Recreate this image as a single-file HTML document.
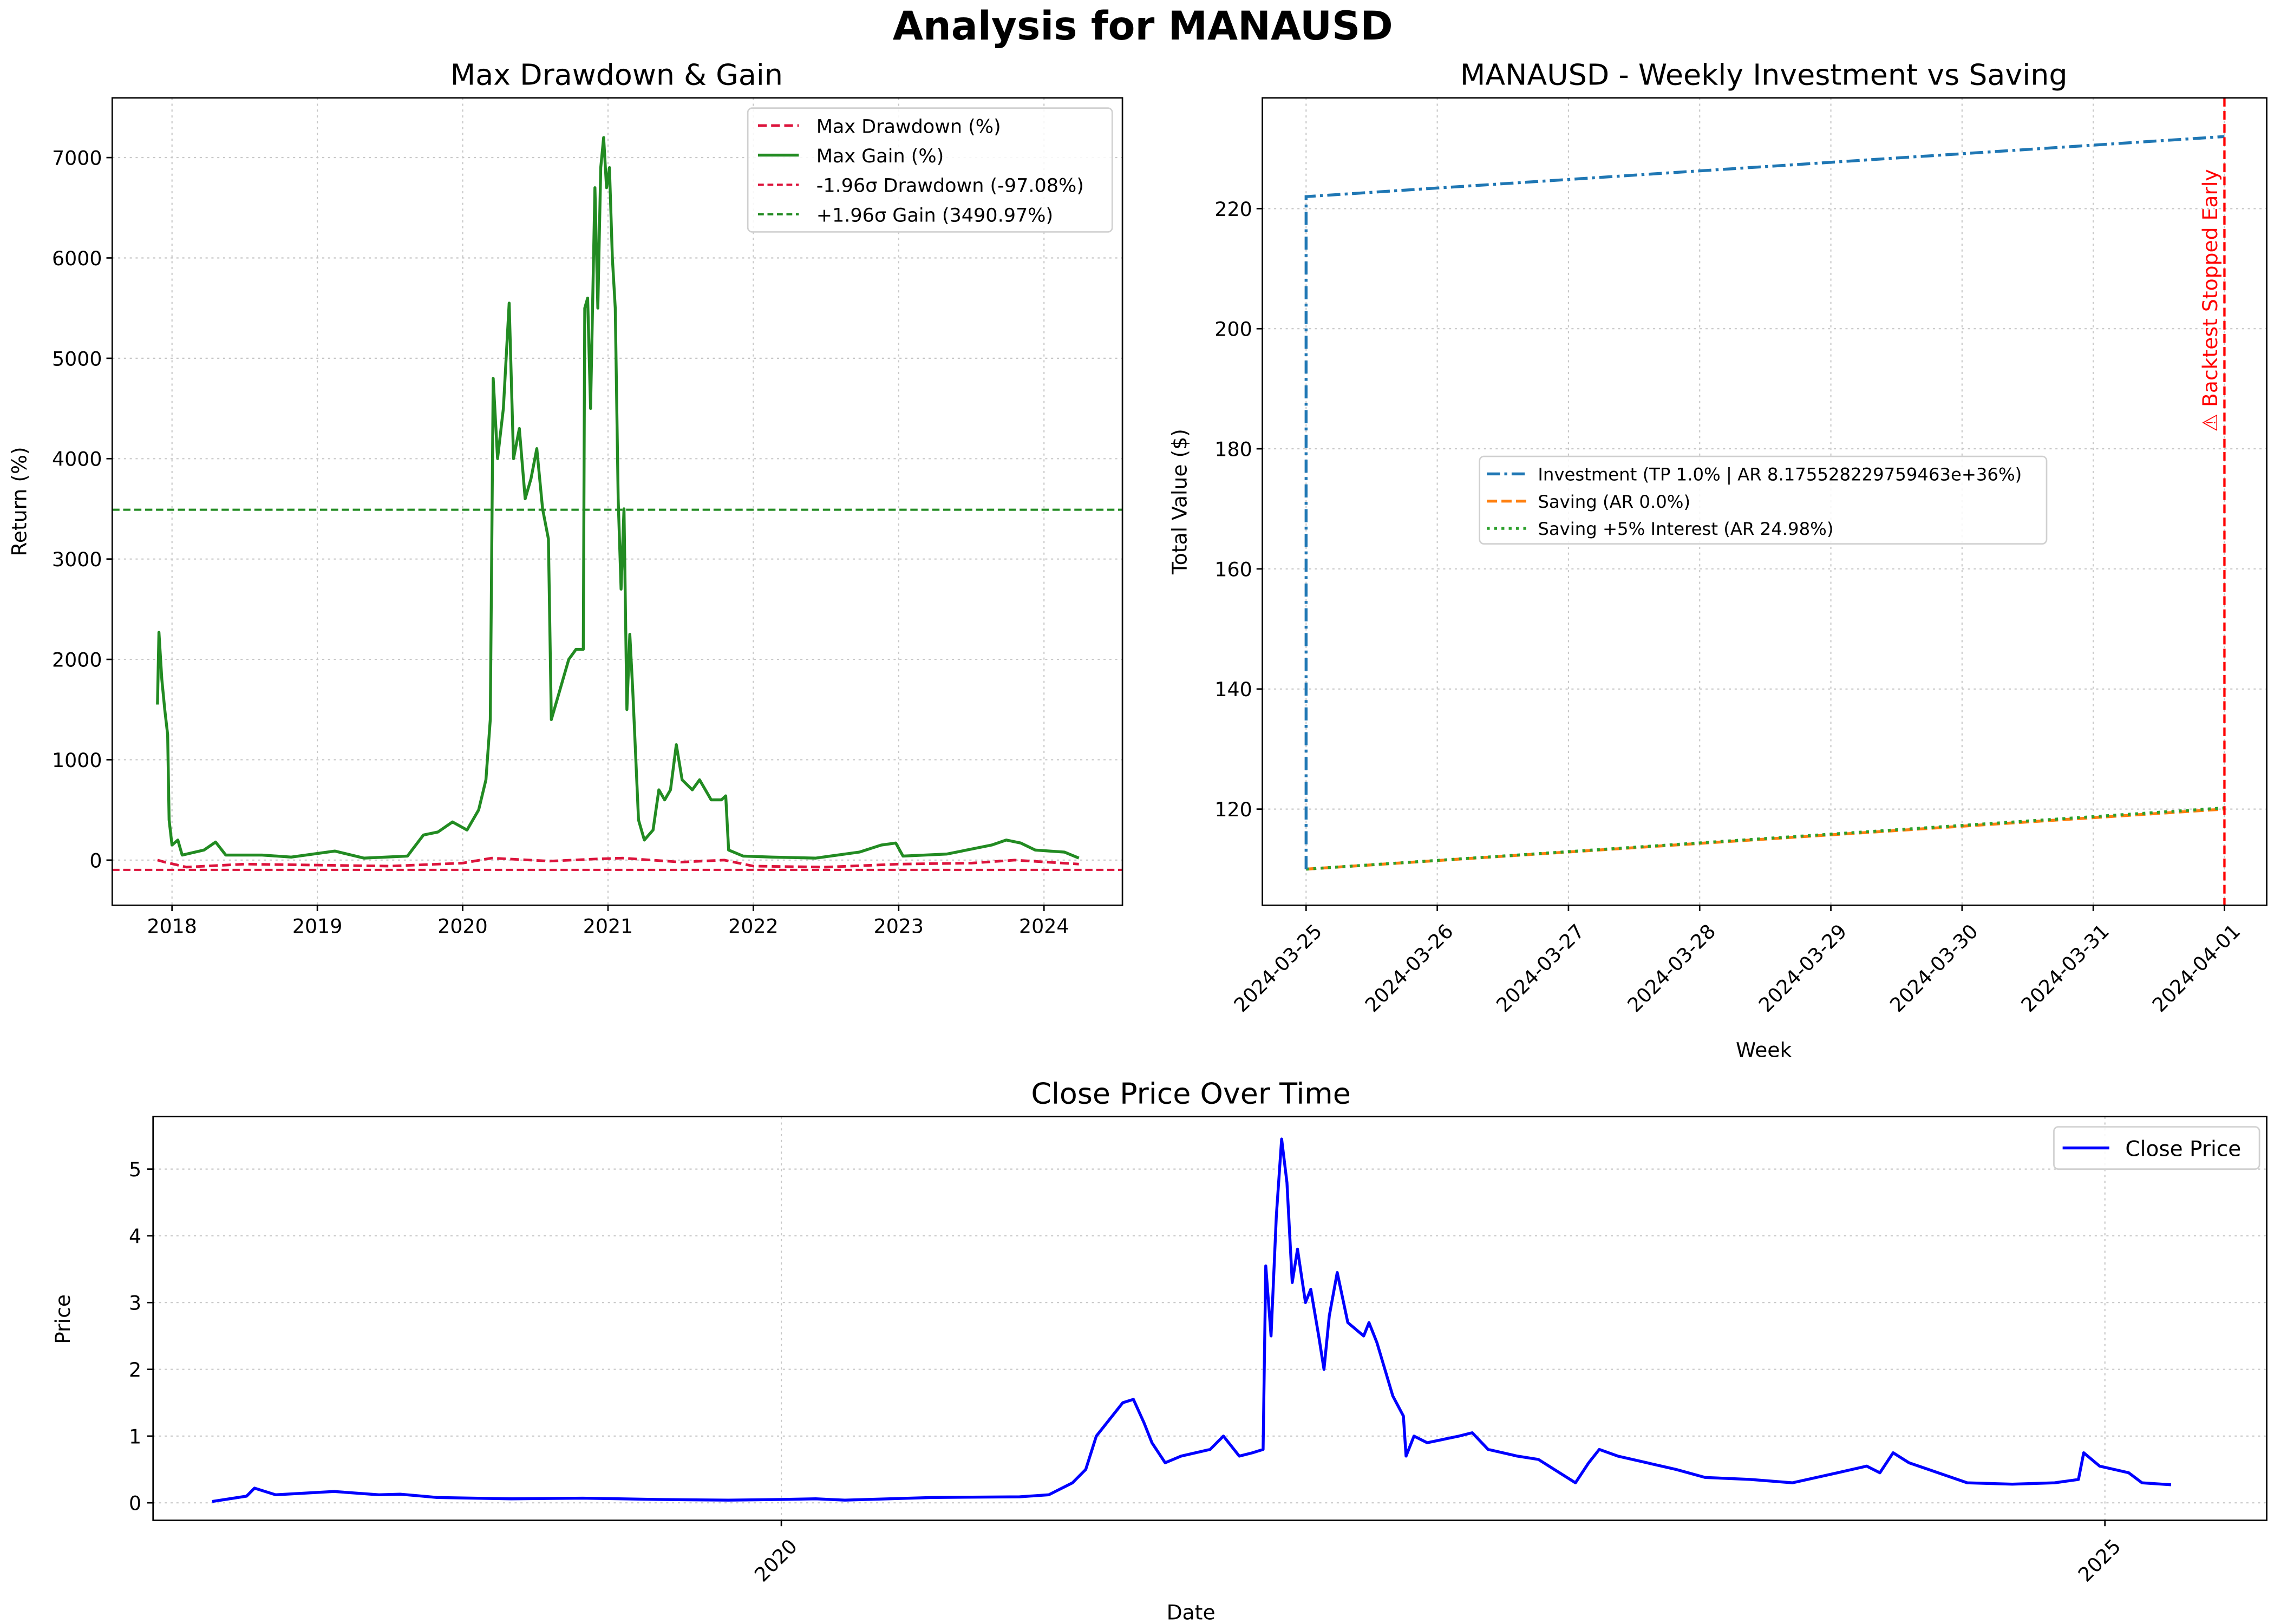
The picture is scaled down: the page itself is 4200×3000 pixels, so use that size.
<!DOCTYPE html>
<html><head><meta charset="utf-8">
<style>
html,body{margin:0;padding:0;background:#fff;}
svg{display:block;font-family:"DejaVu Sans","Liberation Sans",sans-serif;}
</style></head>
<body>
<svg id="fig" xmlns="http://www.w3.org/2000/svg" width="4200" height="3000" viewBox="0 0 1560 1114">
<rect width="1560" height="1114" fill="#fff"/>
<text x="784" y="27" text-anchor="middle" font-size="27" font-weight="bold">Analysis for MANAUSD</text>
<g id="p1"></g>
<g id="p2"></g>
<g id="p3"></g>
</svg>
<script>
// ---------- data ----------
const gainYears = [2017.90,2017.91,2017.93,2017.95,2017.97,2017.98,2018.00,2018.04,2018.07,2018.22,2018.30,2018.37,2018.62,2018.82,2019.12,2019.32,2019.62,2019.73,2019.83,2019.93,2020.03,2020.11,2020.16,2020.19,2020.21,2020.24,2020.28,2020.32,2020.35,2020.39,2020.43,2020.47,2020.51,2020.55,2020.59,2020.61,2020.65,2020.69,2020.73,2020.78,2020.83,2020.84,2020.86,2020.88,2020.91,2020.93,2020.95,2020.97,2020.99,2021.01,2021.03,2021.05,2021.07,2021.09,2021.11,2021.13,2021.15,2021.17,2021.21,2021.25,2021.31,2021.35,2021.39,2021.43,2021.47,2021.51,2021.58,2021.63,2021.71,2021.78,2021.81,2021.83,2021.93,2022.13,2022.43,2022.73,2022.88,2022.98,2023.03,2023.33,2023.64,2023.74,2023.84,2023.94,2024.14,2024.24];
const gainValues = [1550,2270,1800,1500,1250,400,150,200,50,100,180,50,50,30,90,20,40,250,280,380,300,500,800,1400,4800,4000,4500,5550,4000,4300,3600,3800,4100,3500,3200,1400,1600,1800,2000,2100,2100,5500,5600,4500,6700,5500,6900,7200,6700,6900,6000,5500,3600,2700,3500,1500,2250,1700,400,200,300,700,600,700,1150,800,700,800,600,600,640,100,40,30,20,80,150,170,40,60,150,200,170,100,80,20];
const ddYears = [2017.90,2017.95,2018.10,2018.50,2019.00,2019.50,2020.00,2020.20,2020.60,2020.90,2021.10,2021.50,2021.80,2022.00,2022.50,2023.00,2023.50,2023.80,2024.24];
const ddValues = [0,-20,-70,-40,-50,-60,-30,20,-10,10,20,-20,0,-60,-70,-40,-30,0,-40];
const ddSigma = -97.08, gainSigma = 3490.97;
const p1YTicks = [0,1000,2000,3000,4000,5000,6000,7000];
const p1XTicks = [2018,2019,2020,2021,2022,2023,2024];

const weekDays = [0,1,2,3,4,5,6,7];
const weekLabels = ["2024-03-25","2024-03-26","2024-03-27","2024-03-28","2024-03-29","2024-03-30","2024-03-31","2024-04-01"];
const invDays = [0,0,7];
const invValues = [110,222,232];
const saveDays = [0,7];
const saveValues = [110,120];
const save5Values = [110,120.2];
const p2YTicks = [120,140,160,180,200,220];
const stopDay = 7;

const priceYears = [2017.85,2017.98,2018.01,2018.09,2018.31,2018.48,2018.56,2018.70,2018.98,2019.25,2019.53,2019.80,2020.00,2020.13,2020.24,2020.57,2020.90,2021.01,2021.10,2021.15,2021.19,2021.23,2021.29,2021.33,2021.37,2021.40,2021.45,2021.51,2021.62,2021.67,2021.73,2021.78,2021.82,2021.83,2021.85,2021.87,2021.89,2021.91,2021.93,2021.95,2021.98,2022.00,2022.03,2022.05,2022.07,2022.10,2022.14,2022.20,2022.22,2022.25,2022.28,2022.31,2022.35,2022.36,2022.39,2022.44,2022.56,2022.61,2022.67,2022.78,2022.86,2022.94,2023.00,2023.05,2023.09,2023.16,2023.27,2023.38,2023.49,2023.66,2023.82,2023.99,2024.10,2024.15,2024.20,2024.26,2024.37,2024.48,2024.65,2024.81,2024.90,2024.92,2024.98,2025.09,2025.14,2025.25];
const priceValues = [0.02,0.10,0.22,0.12,0.17,0.12,0.13,0.08,0.06,0.07,0.05,0.04,0.05,0.06,0.04,0.08,0.09,0.12,0.30,0.50,1.00,1.20,1.50,1.55,1.20,0.90,0.60,0.70,0.80,1.00,0.70,0.75,0.80,3.55,2.50,4.30,5.45,4.80,3.30,3.80,3.00,3.20,2.50,2.00,2.80,3.45,2.70,2.50,2.70,2.40,2.00,1.60,1.30,0.70,1.00,0.90,1.00,1.05,0.80,0.70,0.65,0.45,0.30,0.60,0.80,0.70,0.60,0.50,0.38,0.35,0.30,0.45,0.55,0.45,0.75,0.60,0.45,0.30,0.28,0.30,0.35,0.75,0.55,0.45,0.30,0.27];
const p3YTicks = [0,1,2,3,4,5];
const p3XTicks = [2020,2025];

// ---------- helpers ----------
const NS = "http://www.w3.org/2000/svg";
function mk(parent, tag, attrs, text){
  const e = document.createElementNS(NS, tag);
  for (const k in attrs) e.setAttribute(k, attrs[k]);
  if (text !== undefined) e.textContent = text;
  parent.appendChild(e);
  return e;
}
function pathD(xs, ys, fx, fy){
  return xs.map((x,i)=>(i?"L":"M")+fx(x).toFixed(2)+","+fy(ys[i]).toFixed(2)).join("");
}
const GRID = {stroke:"#c8c8c8","stroke-width":0.8,"stroke-dasharray":"1.5,2.5"};

// ---------- Plot 1 ----------
(function(){
  const g = document.getElementById("p1");
  const L=77,R=770,T=67,B=621;
  const x = v => 118 + (v-2018)*99.7;
  const y = v => 590 - v*0.06886;
  let e;
  e = mk(g,"text",{x:423,y:58,"text-anchor":"middle","font-size":20},"Max Drawdown & Gain");
   
  p1XTicks.forEach(t=>{
    e = mk(g,"line",Object.assign({x1:x(t),x2:x(t),y1:T,y2:B},GRID));
     
    mk(g,"line",{x1:x(t),x2:x(t),y1:B,y2:B+4,stroke:"#000"});
    e = mk(g,"text",{x:x(t),y:B+19,"text-anchor":"middle","font-size":13.5},String(t));
     
  });
  p1YTicks.forEach(t=>{
    e = mk(g,"line",Object.assign({x1:L,x2:R,y1:y(t),y2:y(t)},GRID));
     
    mk(g,"line",{x1:L-4,x2:L,y1:y(t),y2:y(t),stroke:"#000"});
    e = mk(g,"text",{x:L-7,y:y(t)+5,"text-anchor":"end","font-size":13.5},String(t));
     
  });
  e = mk(g,"text",{x:18,y:344,"text-anchor":"middle","font-size":14,transform:"rotate(-90 18 344)"},"Return (%)");
   
  e = mk(g,"line",{x1:L,x2:R,y1:y(gainSigma),y2:y(gainSigma),stroke:"#228b22","stroke-width":1.5,"stroke-dasharray":"5,2.5"});
   
  e = mk(g,"path",{d:pathD(gainYears,gainValues,x,y),fill:"none",stroke:"#228b22","stroke-width":2,"stroke-linejoin":"round"});
   
  e = mk(g,"path",{d:pathD(ddYears,ddValues,x,y),fill:"none",stroke:"#dc143c","stroke-width":1.8,"stroke-dasharray":"6,3"});
   
  e = mk(g,"line",{x1:L,x2:R,y1:y(ddSigma),y2:y(ddSigma),stroke:"#dc143c","stroke-width":1.5,"stroke-dasharray":"5,2.5"});
   
  mk(g,"rect",{x:L,y:T,width:R-L,height:B-T,fill:"none",stroke:"#000","stroke-width":1});
  // legend
  const lg = mk(g,"g",{});
   
  mk(lg,"rect",{x:513,y:74,width:250,height:85,rx:3,fill:"#fff","fill-opacity":0.85,stroke:"#d0d0d0"});
  const items=[["Max Drawdown (%)","#dc143c","6,3",1.8],["Max Gain (%)","#228b22","",2],["-1.96σ Drawdown (-97.08%)","#dc143c","4,2.5",1.5],["+1.96σ Gain (3490.97%)","#228b22","4,2.5",1.5]];
  items.forEach((it,i)=>{
    const yy=86+i*20.3;
    mk(lg,"line",{x1:520,x2:548,y1:yy,y2:yy,stroke:it[1],"stroke-width":it[3],"stroke-dasharray":it[2]});
    e = mk(lg,"text",{x:560,y:yy+5,"font-size":13},it[0]);
     
  });
})();

// ---------- Plot 2 ----------
(function(){
  const g = document.getElementById("p2");
  const L=866,R=1555,T=67,B=621;
  const x = d => 896 + d*90;
  const y = v => 555 - (v-120)*4.12;
  let e;
  e = mk(g,"text",{x:1210,y:58,"text-anchor":"middle","font-size":20},"MANAUSD - Weekly Investment vs Saving");
   
  weekDays.forEach((d,i)=>{
    e = mk(g,"line",Object.assign({x1:x(d),x2:x(d),y1:T,y2:B},GRID));
     
    mk(g,"line",{x1:x(d),x2:x(d),y1:B,y2:B+4,stroke:"#000"});
    const tx=x(d)+5, ty=B+12;
    e = mk(g,"text",{x:tx,y:ty,"text-anchor":"end","font-size":13.5,transform:`rotate(-45 ${tx} ${ty})`,dy:"0.7em"},weekLabels[i]);
     
  });
  p2YTicks.forEach(t=>{
    e = mk(g,"line",Object.assign({x1:L,x2:R,y1:y(t),y2:y(t)},GRID));
     
    mk(g,"line",{x1:L-4,x2:L,y1:y(t),y2:y(t),stroke:"#000"});
    e = mk(g,"text",{x:L-7,y:y(t)+5,"text-anchor":"end","font-size":13.5},String(t));
     
  });
  e = mk(g,"text",{x:814,y:344,"text-anchor":"middle","font-size":14,transform:"rotate(-90 814 344)"},"Total Value ($)");
   
  e = mk(g,"text",{x:1210,y:725,"text-anchor":"middle","font-size":14},"Week");
   
  e = mk(g,"path",{d:pathD(saveDays,saveValues,x,y),fill:"none",stroke:"#ff7f0e","stroke-width":2,"stroke-dasharray":"7,3"});
   
  e = mk(g,"path",{d:pathD(saveDays,save5Values,x,y),fill:"none",stroke:"#2ca02c","stroke-width":2,"stroke-dasharray":"2,3"});
   
  e = mk(g,"path",{d:pathD(invDays,invValues,x,y),fill:"none",stroke:"#1f77b4","stroke-width":2,"stroke-dasharray":"9,3,2,3"});
   
  e = mk(g,"line",{x1:x(stopDay),x2:x(stopDay),y1:T,y2:B,stroke:"#ff0000","stroke-width":1.6,"stroke-dasharray":"6,3"});
   
  const sx=x(stopDay)-5, sy=206;
  e = mk(g,"text",{x:sx,y:sy,"text-anchor":"middle","font-size":14,fill:"#ff0000",transform:`rotate(-90 ${sx} ${sy})`},"⚠ Backtest Stopped Early");
   
  mk(g,"rect",{x:L,y:T,width:R-L,height:B-T,fill:"none",stroke:"#000","stroke-width":1});
  const lg = mk(g,"g",{});
   
  mk(lg,"rect",{x:1015,y:313,width:389,height:60,rx:3,fill:"#fff","fill-opacity":0.85,stroke:"#d0d0d0"});
  const items=[["Investment (TP 1.0% | AR 8.175528229759463e+36%)","#1f77b4","9,3,2,3"],["Saving (AR 0.0%)","#ff7f0e","7,3"],["Saving +5% Interest (AR 24.98%)","#2ca02c","2,3"]];
  items.forEach((it,i)=>{
    const yy=325+i*18.7;
    mk(lg,"line",{x1:1020,x2:1047,y1:yy,y2:yy,stroke:it[1],"stroke-width":2,"stroke-dasharray":it[2]});
    e = mk(lg,"text",{x:1055,y:yy+4.5,"font-size":12},it[0]);
     
  });
})();

// ---------- Plot 3 ----------
(function(){
  const g = document.getElementById("p3");
  const L=105,R=1555,T=766,B=1043;
  const x = v => 536 + (v-2020)*181.6;
  const y = v => 1031 - v*45.8;
  let e;
  e = mk(g,"text",{x:817,y:757,"text-anchor":"middle","font-size":20},"Close Price Over Time");
   
  p3XTicks.forEach(t=>{
    e = mk(g,"line",Object.assign({x1:x(t),x2:x(t),y1:T,y2:B},GRID));
     
    mk(g,"line",{x1:x(t),x2:x(t),y1:B,y2:B+4,stroke:"#000"});
    const tx=x(t)+5, ty=B+12;
    e = mk(g,"text",{x:tx,y:ty,"text-anchor":"end","font-size":13.5,transform:`rotate(-45 ${tx} ${ty})`,dy:"0.7em"},String(t));
     
  });
  p3YTicks.forEach(t=>{
    e = mk(g,"line",Object.assign({x1:L,x2:R,y1:y(t),y2:y(t)},GRID));
     
    mk(g,"line",{x1:L-4,x2:L,y1:y(t),y2:y(t),stroke:"#000"});
    e = mk(g,"text",{x:L-8,y:y(t)+5,"text-anchor":"end","font-size":13.5},String(t));
     
  });
  e = mk(g,"text",{x:48,y:905,"text-anchor":"middle","font-size":14,transform:"rotate(-90 48 905)"},"Price");
   
  e = mk(g,"text",{x:817,y:1111,"text-anchor":"middle","font-size":14},"Date");
   
  e = mk(g,"path",{d:pathD(priceYears,priceValues,x,y),fill:"none",stroke:"#0000ff","stroke-width":2,"stroke-linejoin":"round"});
   
  mk(g,"rect",{x:L,y:T,width:R-L,height:B-T,fill:"none",stroke:"#000","stroke-width":1});
  const lg = mk(g,"g",{});
   
  mk(lg,"rect",{x:1409,y:773,width:141,height:29,rx:3,fill:"#fff","fill-opacity":0.85,stroke:"#d0d0d0"});
  mk(lg,"line",{x1:1415,x2:1447,y1:787.5,y2:787.5,stroke:"#0000ff","stroke-width":2});
  e = mk(lg,"text",{x:1458,y:793,"font-size":14.5},"Close Price");
   
})();
</script>
</body></html>
